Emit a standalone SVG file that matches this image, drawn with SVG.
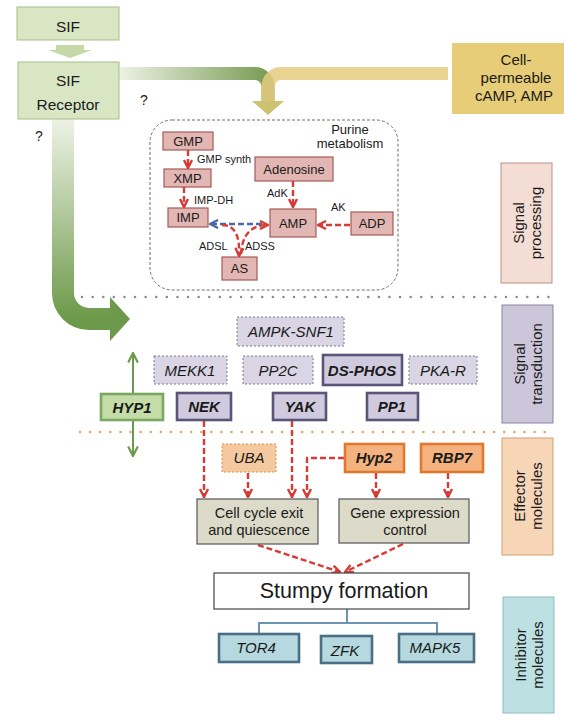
<svg xmlns="http://www.w3.org/2000/svg" width="564" height="727" viewBox="0 0 564 727">
<style>
text{font-family:"Liberation Sans",Arial,sans-serif;fill:#1a1a1a}
.c{text-anchor:middle}
.t15{font-size:15px}
.t13{font-size:13px}
.t11{font-size:11px}
.it{font-style:italic}
.bi{font-style:italic;font-weight:bold}
.green{fill:#d8e6c4;stroke:#a7bf8a;stroke-width:1}
.pur{fill:#e2b6b2;stroke:#a65a58;stroke-width:1.2}
.sd{fill:#d9d5e5;stroke:#7d7990;stroke-width:1;stroke-dasharray:2 2}
.ss{fill:#cfcade;stroke:#5a5478;stroke-width:2.6}
.eff{fill:#f4b27f;stroke:#e0792e;stroke-width:2.6}
.box{fill:#dcdbc9;stroke:#555;stroke-width:1.2}
.inh{fill:#b5d9de;stroke:#4a6f85;stroke-width:2.6}
.red{fill:none;stroke:#d63b35;stroke-width:2.4;stroke-dasharray:6 3;marker-end:url(#ar)}
</style>
<defs>
<marker id="ar" viewBox="0 0 10 10" refX="9" refY="5" markerWidth="10" markerHeight="10" markerUnits="userSpaceOnUse" orient="auto">
<path d="M1,1 L9,5 L1,9" fill="none" stroke="#d63b35" stroke-width="2.4"/>
</marker>
<marker id="arb" viewBox="0 0 10 10" refX="9" refY="5" markerWidth="10" markerHeight="10" markerUnits="userSpaceOnUse" orient="auto">
<path d="M1,1 L9,5 L1,9" fill="none" stroke="#4a6aa8" stroke-width="2.4"/>
</marker>
<marker id="arg" viewBox="0 0 10 10" refX="9" refY="5" markerWidth="12" markerHeight="12" markerUnits="userSpaceOnUse" orient="auto">
<path d="M1,1 L9,5 L1,9" fill="none" stroke="#6a9a4a" stroke-width="1.8"/>
</marker>
<linearGradient id="gh" gradientUnits="userSpaceOnUse" x1="119" y1="0" x2="268" y2="0">
<stop offset="0" stop-color="#edf2e4"/><stop offset="1" stop-color="#7a9c55"/>
</linearGradient>
<linearGradient id="gv" gradientUnits="userSpaceOnUse" x1="0" y1="119" x2="0" y2="318">
<stop offset="0" stop-color="#eef2e6"/><stop offset="1" stop-color="#6d9a4a"/>
</linearGradient>
</defs>

<g id="big-arrows">
<path d="M119,73.5 H255 A13,13 0 0 1 268,86.5 V102" fill="none" stroke="url(#gh)" stroke-width="13"/>
<path d="M448,73.5 H281 A13,13 0 0 0 268,86.5 V102" fill="none" stroke="#e6cb7e" stroke-width="13" opacity="0.85"/>
<polygon points="252,101 284,101 268,115" fill="#cdc270"/>
<path d="M63,119 V293 A26,26 0 0 0 89,319 H112" fill="none" stroke="url(#gv)" stroke-width="22"/>
<polygon points="110,297 130,319 110,341" fill="#6d9a4a"/>
<polygon points="56,45 84,45 84,50 92,50 70,58 48,50 56,50" fill="#c5d9a8"/>
</g>

<g id="dividers" fill="none" stroke-linecap="round">
<line x1="82" y1="297" x2="552" y2="297" stroke="#8a8a8a" stroke-width="2.4" stroke-dasharray="0.1 10.5"/>
<line x1="80" y1="432" x2="552" y2="432" stroke="#e3a35a" stroke-width="2.4" stroke-dasharray="0.1 10"/>
</g>

<g id="sif">
<rect class="green" x="17" y="7" width="102" height="33"/>
<text class="c" x="68" y="32" style="font-size:15.5px">SIF</text>
</g>
<g id="sif-receptor">
<rect class="green" x="18" y="62" width="101" height="57"/>
<text class="c" x="68" y="86" style="font-size:15.5px">SIF</text>
<text class="c" x="68" y="110" style="font-size:15.5px">Receptor</text>
</g>
<text id="q1" x="140" y="105" style="font-size:14px">?</text>
<text id="q2" x="35" y="141" style="font-size:14px">?</text>

<g id="cell-permeable">
<rect x="452" y="43" width="112" height="71" fill="#e8cd78"/>
<text class="c t15" x="516" y="65">Cell-</text>
<text class="c t15" x="516" y="83">permeable</text>
<text class="c t15" x="514" y="101">cAMP, AMP</text>
</g>

<g id="purine-metabolism">
<rect x="150" y="120" width="248" height="170" rx="22" fill="#fff" stroke="#6a5a5a" stroke-width="0.9" stroke-dasharray="3 2"/>
<text class="c t13" x="350" y="134">Purine</text>
<text class="c t13" x="350" y="148">metabolism</text>
</g>
<g id="gmp"><rect class="pur" x="163" y="132" width="50" height="18"/><text class="c t13" x="188" y="146">GMP</text></g>
<g id="xmp"><rect class="pur" x="164" y="169" width="47" height="18"/><text class="c t13" x="187.5" y="183">XMP</text></g>
<g id="imp"><rect class="pur" x="168" y="208" width="40" height="19"/><text class="c t13" x="188" y="222">IMP</text></g>
<g id="adenosine"><rect class="pur" x="255" y="157" width="78" height="24"/><text class="c t13" x="294" y="174">Adenosine</text></g>
<g id="amp"><rect class="pur" x="270" y="209" width="46" height="28" stroke="#9b3b3b" stroke-width="3"/><text class="c t13" x="293" y="228">AMP</text></g>
<g id="adp"><rect class="pur" x="351" y="212" width="42" height="23"/><text class="c t13" x="372" y="228">ADP</text></g>
<g id="as"><rect class="pur" x="222" y="257" width="35" height="23"/><text class="c t13" x="239.5" y="273">AS</text></g>
<g id="purine-labels">
<text class="t11" x="197" y="163">GMP synth</text>
<text class="t11" x="194" y="204">IMP-DH</text>
<text class="t11" x="267" y="197">AdK</text>
<text class="t11" x="331" y="211">AK</text>
<text class="t11" x="199" y="250">ADSL</text>
<text class="t11" x="245" y="250">ADSS</text>
</g>

<g id="connectors">
<path class="red" d="M188,150 L188,168"/>
<path class="red" d="M184,187 L184,207"/>
<path class="red" d="M293,181 L293,207"/>
<path class="red" d="M350,225 L318,225"/>
<path d="M262,224 L210,224" fill="none" stroke="#4a6aa8" stroke-width="2.4" stroke-dasharray="6 3" marker-end="url(#arb)"/>
<path class="red" d="M222,225 C236,225 240,238 239,256"/>
<path class="red" d="M241,254 C242,236 250,225 268,225"/>
<path d="M133,394 L133,353" fill="none" stroke="#6a9a4a" stroke-width="2" marker-end="url(#arg)"/>
<path d="M133,420 L133,456" fill="none" stroke="#6a9a4a" stroke-width="2" marker-end="url(#arg)"/>
<path class="red" d="M204,421 L204,497"/>
<path class="red" d="M248,473 L248,497"/>
<path class="red" d="M292,421 L292,497"/>
<path class="red" d="M344,458 L307,458 L307,497"/>
<path class="red" d="M376,473 L376,497"/>
<path class="red" d="M448,473 L448,497"/>
<path class="red" d="M258,545 L340,572"/>
<path class="red" d="M403,544 L345,572"/>
<path d="M347,609 V623 M259,634 V623 H437 V634" fill="none" stroke="#6a94b4" stroke-width="2"/>
</g>

<g id="ampk-snf1"><rect class="sd" x="237" y="317" width="107" height="29"/><text class="c t15 it" x="291" y="337">AMPK-SNF1</text></g>
<g id="mekk1"><rect class="sd" x="154" y="356" width="73" height="28"/><text class="c t15 it" x="190" y="376">MEKK1</text></g>
<g id="pp2c"><rect class="sd" x="243" y="356" width="70" height="28"/><text class="c t15 it" x="278" y="376">PP2C</text></g>
<g id="ds-phos"><rect class="ss" x="323" y="355" width="79" height="30"/><text class="c t15 bi" x="362" y="376">DS-PHOS</text></g>
<g id="pka-r"><rect class="sd" x="409" y="356" width="68" height="28"/><text class="c t15 it" x="443" y="376">PKA-R</text></g>
<g id="hyp1"><rect x="101" y="394" width="62" height="26" fill="#c4dca8" stroke="#7aa860" stroke-width="2.6"/><text class="c t15 bi" x="132" y="413">HYP1</text></g>
<g id="nek"><rect class="ss" x="177" y="393" width="54" height="27"/><text class="c t15 bi" x="204" y="412">NEK</text></g>
<g id="yak"><rect class="ss" x="273" y="393" width="53" height="27"/><text class="c t15 bi" x="300" y="412">YAK</text></g>
<g id="pp1"><rect class="ss" x="367" y="393" width="51" height="27"/><text class="c t15 bi" x="392" y="412">PP1</text></g>

<g id="uba"><rect x="222" y="444" width="54" height="28" fill="#f5c9a0" stroke="#e0913e" stroke-width="1" stroke-dasharray="2 2"/><text class="c t15 it" x="249" y="463">UBA</text></g>
<g id="hyp2"><rect class="eff" x="345" y="444" width="59" height="28"/><text class="c t15 bi" x="374" y="463">Hyp2</text></g>
<g id="rbp7"><rect class="eff" x="421" y="444" width="62" height="28"/><text class="c t15 bi" x="452" y="463">RBP7</text></g>

<g id="cell-cycle"><rect class="box" x="197" y="499" width="121" height="45"/>
<text class="c" x="259" y="518" style="font-size:14.5px">Cell cycle exit</text>
<text class="c" x="259" y="535" style="font-size:14.5px">and quiescence</text></g>
<g id="gene-expression"><rect class="box" x="339" y="499" width="130" height="44"/>
<text class="c" x="405" y="518" style="font-size:14.5px">Gene expression</text>
<text class="c" x="405" y="535" style="font-size:14.5px">control</text></g>

<g id="stumpy"><rect x="214" y="573" width="255" height="36" fill="#fff" stroke="#444" stroke-width="1.2"/>
<text class="c" x="344" y="598" style="font-size:21.5px">Stumpy formation</text></g>

<g id="tor4"><rect class="inh" x="219" y="634" width="80" height="28"/><text class="c t15 it" x="256" y="653">TOR4</text></g>
<g id="zfk"><rect class="inh" x="321" y="636" width="51" height="27"/><text class="c t15 it" x="345" y="656">ZFK</text></g>
<g id="mapk5"><rect class="inh" x="399" y="634" width="75" height="28"/><text class="c t15 it" x="435" y="653">MAPK5</text></g>

<g id="lbl-signal-processing">
<rect x="501" y="163" width="51" height="120" fill="#f4ddd4" stroke="#b99085" stroke-width="1"/>
<g transform="translate(526,223) rotate(-90)"><text class="c t15" x="0" y="-2">Signal</text><text class="c t15" x="0" y="15">processing</text></g>
</g>
<g id="lbl-signal-transduction">
<rect x="502" y="305" width="51" height="118" fill="#cbc6d9" stroke="#8883a0" stroke-width="1"/>
<g transform="translate(527,364) rotate(-90)"><text class="c t15" x="0" y="-2">Signal</text><text class="c t15" x="0" y="15">transduction</text></g>
</g>
<g id="lbl-effector">
<rect x="502" y="438" width="51" height="117" fill="#f7d6b8" stroke="#d39e72" stroke-width="1"/>
<g transform="translate(527,496) rotate(-90)"><text class="c t15" x="0" y="-2">Effector</text><text class="c t15" x="0" y="15">molecules</text></g>
</g>
<g id="lbl-inhibitor">
<rect x="503" y="597" width="51" height="116" fill="#bde0e3" stroke="#8dbcc4" stroke-width="1"/>
<g transform="translate(528,655) rotate(-90)"><text class="c t15" x="0" y="-2">Inhibitor</text><text class="c t15" x="0" y="15">molecules</text></g>
</g>
</svg>
